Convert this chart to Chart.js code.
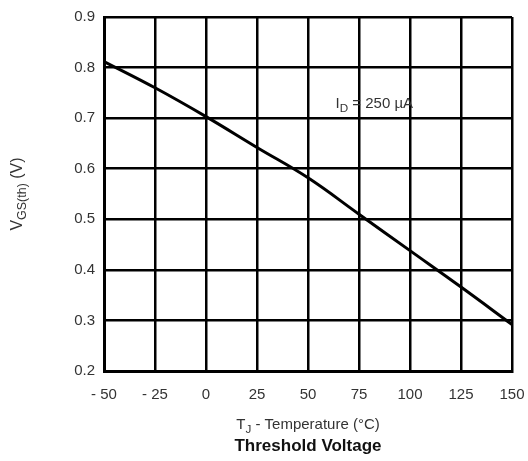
<!DOCTYPE html>
<html>
<head>
<meta charset="utf-8">
<script src="https://cdn.jsdelivr.net/npm/chart.js@4/dist/chart.umd.min.js"></script>
<style>
    html, body { margin: 0; padding: 0; background: #fff; }
    #wrap { width: 528px; height: 461px; }
</style>
</head>
<body>
<div id="wrap"><canvas id="vth_chart" width="528" height="461"></canvas></div>
<script>
// junction temperature (°C) and threshold voltage
const temps = [-50, -25, 0, 25, 50, 75, 100, 125, 150];
const vgsTh = [0.812, 0.760, 0.703, 0.642, 0.582, 0.510, 0.438, 0.366, 0.292];
const xTicks = [-50, -25, 0, 25, 50, 75, 100, 125, 150];
const yTicks = [0.2, 0.3, 0.4, 0.5, 0.6, 0.7, 0.8, 0.9];

const textColor = "#333";
const font = "Liberation Sans, Arial, sans-serif";

// draws text made of [string, isSubscript] parts, centred on x
function drawParts(ctx, parts, x, y, size, weight, align) {
    let total = 0;
    parts.forEach(function (p) {
        ctx.font = weight + " " + (p[1] ? size * 0.78 : size) + "px " + font;
        total += ctx.measureText(p[0]).width;
    });
    let cx = align === "left" ? x : x - total / 2;
    parts.forEach(function (p) {
        ctx.font = weight + " " + (p[1] ? size * 0.78 : size) + "px " + font;
        ctx.fillText(p[0], cx, p[1] ? y + size * 0.3 : y);
        cx += ctx.measureText(p[0]).width;
    });
}

const titlesPlugin = {
    id: "titles",
    afterDraw: function (chart) {
        const ctx = chart.ctx;
        const area = chart.chartArea;
        ctx.save();
        ctx.fillStyle = textColor;
        ctx.textBaseline = "middle";
        ctx.textAlign = "left";

        drawParts(ctx, [["T", false], ["J", true], [" - Temperature (°C)", false]], (area.left + area.right) / 2, 425, 15, "normal");
        ctx.fillStyle = "#111";
        drawParts(ctx, [["Threshold Voltage", false]], (area.left + area.right) / 2, 446, 17, "bold");
        ctx.fillStyle = textColor;

        const xs = chart.scales.x, ys = chart.scales.y;
        drawParts(ctx, [["I", false], ["D", true], [" = 250 \u00b5A", false]], xs.getPixelForValue(63.5), ys.getPixelForValue(0.728), 15, "normal", "left");

        ctx.translate(18, (area.top + area.bottom) / 2);
        ctx.rotate(-Math.PI / 2);
        drawParts(ctx, [["V", false], ["GS(th)", true], [" (V)", false]], 0, 0, 16, "normal");
        ctx.restore();
    }
};

new Chart(document.getElementById("vth_chart").getContext("2d"), {
    type: "line",
    data: {
        datasets: [{
            data: temps.map(function (t, i) { return { x: t, y: vgsTh[i] }; }),
            borderColor: "#000",
            borderWidth: 3,
            pointRadius: 0,
            tension: 0.4,
            fill: false
        }]
    },
    options: {
        responsive: false,
        animation: false,
        layout: { padding: { top: 17, right: 16, left: 0, bottom: 0 } },
        plugins: { legend: { display: false }, tooltip: { enabled: false } },
        scales: {
            x: {
                type: "linear",
                min: -50,
                max: 150,
                afterBuildTicks: function (scale) {
                    scale.ticks = xTicks.map(function (v) { return { value: v }; });
                },
                afterFit: function (scale) {
                    scale.height = 90;
                    scale.paddingLeft = 0;
                    scale.paddingRight = 0;
                },
                grid: { color: "#000", lineWidth: 2.5, drawTicks: false },
                border: { color: "#000", width: 3 },
                ticks: {
                    padding: 15,
                    color: textColor,
                    font: { family: font, size: 15 },
                    maxRotation: 0,
                    callback: function (v) { return v < 0 ? "- " + Math.abs(v) : String(v); }
                }
            },
            y: {
                min: 0.2,
                max: 0.9,
                afterBuildTicks: function (scale) {
                    scale.ticks = yTicks.map(function (v) { return { value: v }; });
                },
                afterFit: function (scale) {
                    scale.width = 104;
                    scale.paddingTop = 0;
                    scale.paddingBottom = 0;
                },
                grid: { color: "#000", lineWidth: 2.5, drawTicks: false },
                border: { color: "#000", width: 3 },
                ticks: {
                    padding: 9,
                    color: textColor,
                    font: { family: font, size: 15 },
                    callback: function (v) { return v.toFixed(1); }
                }
            }
        }
    },
    plugins: [titlesPlugin]
});
</script>
</body>
</html>
